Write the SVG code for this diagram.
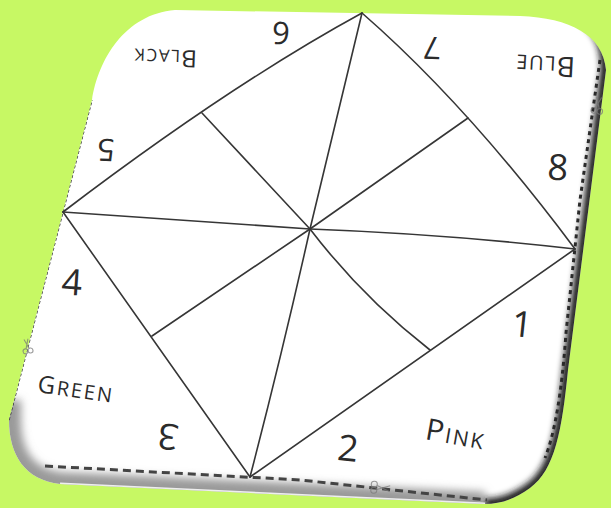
<svg xmlns="http://www.w3.org/2000/svg" width="611" height="508" viewBox="0 0 611 508">
<defs>
<style>
.ln{fill:none;stroke:#363636;stroke-width:1.6;stroke-linecap:round}
.t{font-family:"Open Sans","DejaVu Sans",sans-serif;font-weight:400;fill:#2b2b2b;text-anchor:middle}
.sc{fill:none;stroke:#7a7a7a;stroke-width:1.1;opacity:0.75}
</style>
<filter id="soft" x="-20%" y="-20%" width="140%" height="140%"><feGaussianBlur stdDeviation="3"/></filter>
<filter id="soft2" x="-20%" y="-20%" width="140%" height="140%"><feGaussianBlur stdDeviation="4"/></filter>
<clipPath id="paperClip"><path d="M 175,10 L 520,16 C 570,18 603,35 606,70 L 568,370 C 562,430 555,470 530,488 C 515,499 500,504 485,504 L 60,484 C 25,480 9,455 9,420 L 92,100 C 98,60 125,14 175,10 Z"/></clipPath>
</defs>
<rect width="611" height="508" fill="#c7f864"/>
<g id="paper">
<path d="M 175,10 L 520,16 C 570,18 603,35 606,70 L 568,370 C 562,430 555,470 530,488 C 515,499 500,504 485,504 L 60,484 C 25,480 9,455 9,420 L 92,100 C 98,60 125,14 175,10 Z" fill="#ffffff"/>
<g clip-path="url(#paperClip)">
<path d="M 9,400 L 9,420 C 9,455 25,480 60,484 L 485,504" fill="none" stroke="#9a9a9a" stroke-width="24" filter="url(#soft2)"/>
<path d="M 585,18 C 603,35 606,50 606,70 L 568,370 C 562,430 555,470 530,488 C 515,499 500,504 485,504" fill="none" stroke="#1a1a1a" stroke-width="11" filter="url(#soft)"/>
<path d="M 60,484 L 485,504" fill="none" stroke="#eeeeee" stroke-width="3"/>
<path d="M 9,420 L 92,100" fill="none" stroke="#333" stroke-width="1.4" stroke-dasharray="3 2"/>
</g>
<path d="M 600,60 L 580,200 L 566,333 Q 560,420 545,458" fill="none" stroke="#2a2a2a" stroke-width="3" stroke-dasharray="4 4"/>
<path d="M 45,466 L 300,480 L 487,500" fill="none" stroke="#444" stroke-width="3" stroke-dasharray="8 5"/>
<g class="sc" transform="translate(598,104) rotate(-80)"><circle cx="-7" cy="-3" r="2.8"/><circle cx="-7" cy="3" r="2.8"/><path d="M-4.5,-2 L7,2.5 M-4.5,2 L7,-2.5"/></g>
<g class="sc" transform="translate(382,488) rotate(5)"><circle cx="-8" cy="-3" r="3"/><circle cx="-8" cy="3" r="3"/><path d="M-5,-2 L8,3 M-5,2 L8,-3"/></g>
<g class="sc" transform="translate(27,345) rotate(-100)"><circle cx="-6" cy="-2.5" r="2.5"/><circle cx="-6" cy="2.5" r="2.5"/><path d="M-3.5,-1.5 L6,2 M-3.5,1.5 L6,-2"/></g>
</g>
<g id="connectors" class="ln">
<path d="M 63,212 Q 230,85 362,13"/>
<path d="M 362,13 Q 467.5,105 575,249"/>
<path d="M 575,249 L 250,477"/>
<path d="M 250,477 L 63,212"/>
<path d="M 362,13 L 310,229"/>
<path d="M 310,229 Q 283,350 250,477"/>
<path d="M 63,212 L 310,229"/>
<path d="M 310,229 Q 445,234 575,249"/>
<path d="M 202,113 L 310,229"/>
<path d="M 468,118 L 310,229"/>
<path d="M 430,350 Q 362,297 310,229"/>
<path d="M 152,336 L 310,229"/>
</g>
<g id="labels">
<text class="t" font-size="31" transform="translate(281,33) rotate(182)" y="11">6</text>
<text class="t" font-size="31" transform="translate(432,48) rotate(182)" y="11">7</text>
<text class="t" font-size="31" transform="translate(106,150) rotate(182)" y="11">5</text>
<text class="t" font-size="36" transform="translate(558,167) rotate(4)" y="13">8</text>
<text class="t" font-size="36" transform="translate(72,282) rotate(4)" y="13">4</text>
<text class="t" font-size="36" transform="translate(168,437) rotate(188)" y="13">3</text>
<text class="t" font-size="36" transform="translate(348,448) rotate(6)" y="13">2</text>
<text class="t" font-size="36" transform="translate(522,324) rotate(6)" y="13">1</text>
<text class="t" transform="translate(165,58) rotate(182)" y="8.5" letter-spacing="1.5"><tspan font-size="24">B</tspan><tspan font-size="17">LACK</tspan></text>
<text class="t" transform="translate(545,66) rotate(183)" y="10" letter-spacing="1.5"><tspan font-size="28">B</tspan><tspan font-size="20">LUE</tspan></text>
<text class="t" transform="translate(76,389) rotate(8)" y="8.5" letter-spacing="2"><tspan font-size="24">G</tspan><tspan font-size="20">REEN</tspan></text>
<text class="t" transform="translate(456,434) rotate(10)" y="10.5" letter-spacing="2"><tspan font-size="30">P</tspan><tspan font-size="21">INK</tspan></text>
</g>
</svg>
